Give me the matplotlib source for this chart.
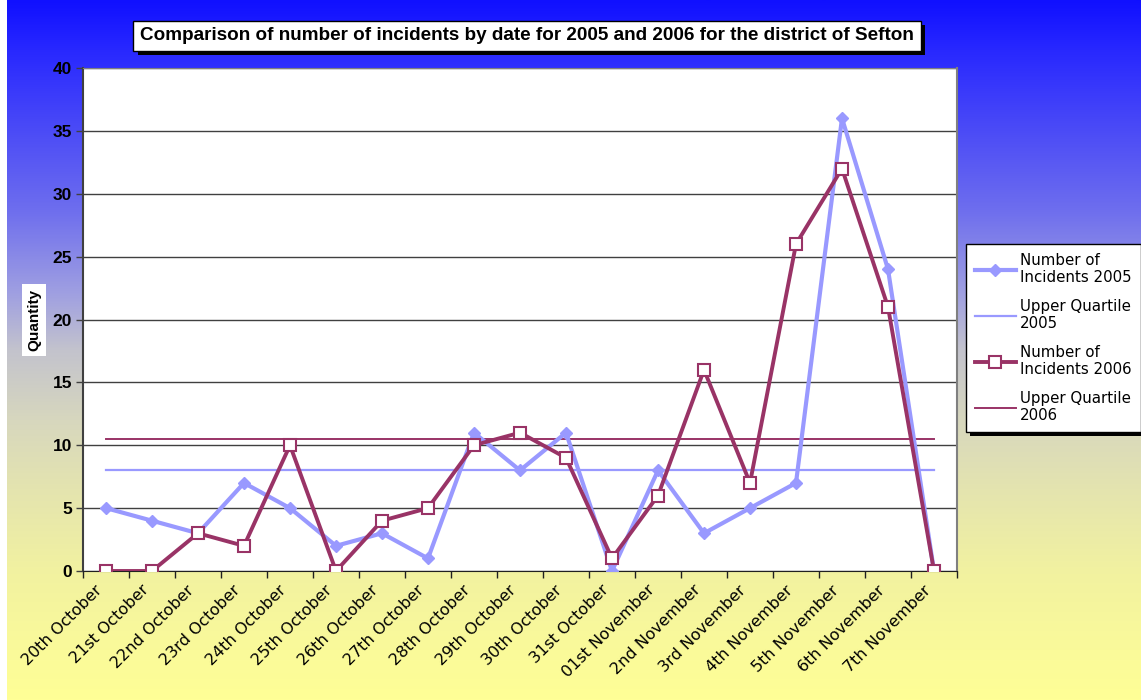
import matplotlib
matplotlib.use('Agg')
import matplotlib.pyplot as plt
import matplotlib.patheffects as pe
import matplotlib.transforms as mtransforms
from matplotlib.colors import LinearSegmentedColormap
from matplotlib.lines import Line2D
import numpy as np

dates = ['20th October', '21st October', '22nd October', '23rd October', '24th October',
         '25th October', '26th October', '27th October', '28th October', '29th October',
         '30th October', '31st October', '01st November', '2nd November', '3rd November',
         '4th November', '5th November', '6th November', '7th November']
incidents_2005 = [5, 4, 3, 7, 5, 2, 3, 1, 11, 8, 11, 0, 8, 3, 5, 7, 36, 24, 0]
incidents_2006 = [0, 0, 3, 2, 10, 0, 4, 5, 10, 11, 9, 1, 6, 16, 7, 26, 32, 21, 0]
uq_2005 = 8
uq_2006 = 10.5

c2005 = '#9999FF'
c2006 = '#993366'

fig = plt.figure(figsize=(11.41, 7.0), dpi=100)
fig.patch.set_facecolor('white')

# background gradient (blue -> grey -> yellow)
stops = [(0.0, (16, 16, 255)), (0.07, (40, 40, 255)), (0.3, (110, 110, 238)),
         (0.42, (160, 160, 225)), (0.5, (195, 195, 205)), (0.6, (215, 215, 190)),
         (0.7, (228, 228, 175)), (0.82, (242, 242, 160)), (1.0, (255, 255, 150))]
cmap = LinearSegmentedColormap.from_list('bg', [(s, tuple(v / 255 for v in c)) for s, c in stops])
bg = fig.add_axes([7 / 1141, 0, 1 - 7 / 1141, 1], zorder=-10)
bg.imshow(np.linspace(0, 1, 256).reshape(-1, 1), aspect='auto', cmap=cmap,
          extent=[0, 1, 0, 1], origin='upper')
bg.axis('off')

ax = fig.add_axes([83 / 1141, 1 - 571 / 700, 874 / 1141, 503 / 700])
ax.set_facecolor('white')
x = np.arange(len(dates))

ax.plot(x, incidents_2005, color=c2005, lw=3, marker='D', ms=6, mfc=c2005, mec=c2005, zorder=3)
ax.plot([x[0], x[-1]], [uq_2005, uq_2005], color=c2005, lw=1.6, zorder=2)
ax.plot(x, incidents_2006, color=c2006, lw=2.8, marker='s', ms=8, mfc='white', mec=c2006,
        mew=1.5, zorder=4)
ax.plot([x[0], x[-1]], [uq_2006, uq_2006], color=c2006, lw=1.4, zorder=2)

ax.set_xlim(-0.5, len(dates) - 0.5)
ax.set_ylim(0, 40)
ax.set_yticks(range(0, 41, 5))
ax.yaxis.grid(True, color='#404040', lw=1)
ax.set_axisbelow(True)
for lab in ax.get_yticklabels():
    lab.set_fontweight('bold')
    lab.set_fontfamily('Liberation Sans')
ax.tick_params(axis='y', labelsize=12.5, length=5, width=1, color='#404040', pad=3)

ax.set_xticks(x)
ax.set_xticks(np.arange(-0.5, len(dates), 1), minor=True)
ax.set_xticklabels(dates, rotation=45, ha='right', va='center', rotation_mode='anchor',
                   fontsize=11.5)
ax.tick_params(axis='x', which='major', length=0, pad=12)
ax.tick_params(axis='x', which='minor', length=5, width=1, color='#202020')
off = mtransforms.ScaledTranslation(-6 / 100, 0, fig.dpi_scale_trans)
for lab in ax.get_xticklabels():
    lab.set_transform(lab.get_transform() + off)

ax.spines['left'].set_color('#404040')
ax.spines['left'].set_linewidth(1.5)
ax.spines['bottom'].set_color('#202020')
ax.spines['top'].set_color('#808080')
ax.spines['right'].set_color('#808080')
ax.spines['right'].set_linewidth(1.5)

shadow = [pe.SimplePatchShadow(offset=(3, -3), shadow_rgbFace='black', alpha=1.0), pe.Normal()]

t = fig.text(527 / 1141, 1 - 36 / 700,
             'Comparison of number of incidents by date for 2005 and 2006 for the district of Sefton',
             ha='center', va='center', fontsize=13.6, fontweight='bold', family='Liberation Sans',
             bbox=dict(boxstyle='square,pad=0.35', fc='white', ec='black', lw=1))
fig.canvas.draw()
t.get_bbox_patch().set_path_effects(shadow)

fig.text(34 / 1141, 1 - 320 / 700, 'Quantity', rotation=90, ha='center', va='center',
         fontsize=11, fontweight='bold', family='Liberation Sans',
         bbox=dict(boxstyle='square,pad=0.3', fc='white', ec='none'))

handles = [
    Line2D([], [], color=c2005, lw=3, marker='D', ms=6, mfc=c2005, mec=c2005),
    Line2D([], [], color=c2005, lw=1.6),
    Line2D([], [], color=c2006, lw=2.8, marker='s', ms=8, mfc='white', mec=c2006, mew=1.5),
    Line2D([], [], color=c2006, lw=1.4),
]
labels = ['Number of\nIncidents 2005', 'Upper Quartile\n2005', 'Number of\nIncidents 2006',
          'Upper Quartile\n2006']
leg = fig.legend(handles, labels, loc='upper left', bbox_to_anchor=(966 / 1141, 1 - 244 / 700),
                 fontsize=10.8, frameon=True, fancybox=False, edgecolor='black', framealpha=1,
                 handlelength=2.7, handletextpad=0.3, labelspacing=0.9, borderpad=0.6,
                 borderaxespad=0)
leg.get_frame().set_linewidth(1)
leg.get_frame().set_path_effects(shadow)

fig.savefig('out.png', dpi=100)
